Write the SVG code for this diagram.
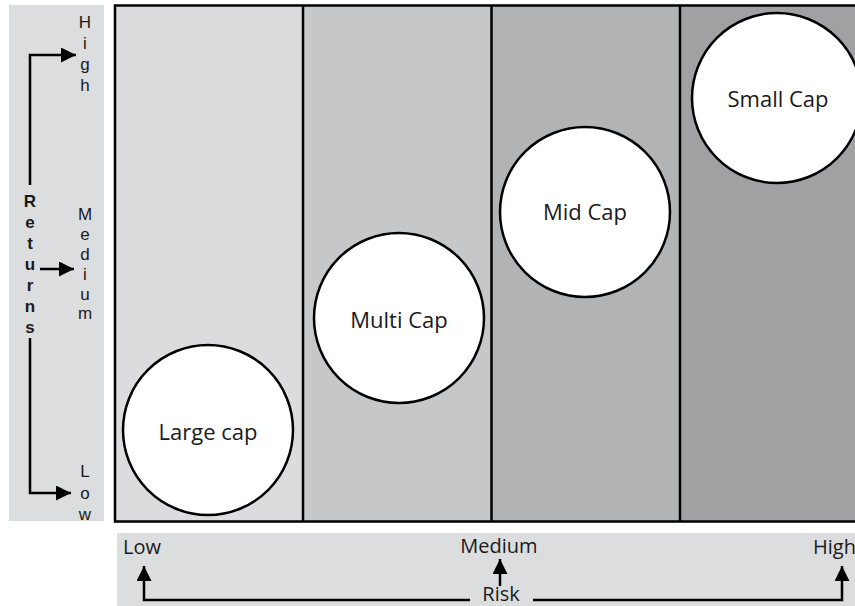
<svg xmlns="http://www.w3.org/2000/svg" width="855" height="606" viewBox="0 0 855 606">
<defs>
<style>
text{font-family:"Open Sans","DejaVu Sans",sans-serif;fill:#1a1a1a}
.lbl{font-size:22px;text-anchor:middle}
.ax{font-size:20px}
.v{font-family:"Liberation Sans",Arial,sans-serif;font-size:17px;text-anchor:middle}
.vb{font-family:"Liberation Sans",Arial,sans-serif;font-size:17px;text-anchor:middle;font-weight:bold}
.ln{stroke:#000;stroke-width:2.5;fill:none}
.node circle{fill:#fff;stroke:#000;stroke-width:2.5}
</style>
<marker id="ah" viewBox="0 0 10 10" refX="10" refY="5" markerWidth="6" markerHeight="6" markerUnits="strokeWidth" orient="auto"><path d="M0,0 L10,5 L0,10 z" fill="#000"/></marker>
</defs>
<rect width="855" height="606" fill="#fff"/>
<g id="returns-axis">
<rect x="9" y="5" width="95" height="516" fill="#dcdddf"/>
<text class="v" x="85" y="28">H</text>
<text class="v" x="85" y="49">i</text>
<text class="v" x="85" y="70">g</text>
<text class="v" x="85" y="91">h</text>
<text class="v" x="85" y="220">M</text>
<text class="v" x="85" y="240">e</text>
<text class="v" x="85" y="260">d</text>
<text class="v" x="85" y="280">i</text>
<text class="v" x="85" y="300">u</text>
<text class="v" x="85" y="319">m</text>
<text class="v" x="85" y="477">L</text>
<text class="v" x="85" y="499">o</text>
<text class="v" x="85" y="520">w</text>
<text class="vb" x="30" y="207">R</text>
<text class="vb" x="30" y="228">e</text>
<text class="vb" x="30" y="249">t</text>
<text class="vb" x="30" y="270">u</text>
<text class="vb" x="30" y="291">r</text>
<text class="vb" x="30" y="312">n</text>
<text class="vb" x="30" y="333">s</text>
</g>
<g id="risk-axis">
<rect x="117" y="533" width="738" height="73" fill="#dcdddf"/>
<text class="ax" x="123" y="554">Low</text>
<text class="ax" x="499" y="553" text-anchor="middle">Medium</text>
<text class="ax" x="813" y="554">High</text>
<text class="ax" x="501" y="601" text-anchor="middle">Risk</text>
</g>
<g id="columns">
<rect x="115" y="5.5" width="188" height="516" fill="#dcdcde"/>
<rect x="303" y="5.5" width="188.5" height="516" fill="#c6c7c9"/>
<rect x="491.5" y="5.5" width="188.5" height="516" fill="#b1b3b5"/>
<rect x="680" y="5.5" width="180" height="516" fill="#a1a1a3"/>
<path class="ln" d="M860,5.5 H115 V521.5 H860 M303,5.5 V521.5 M491.5,5.5 V521.5 M680,5.5 V521.5" stroke-width="3"/>
</g>
<g id="connectors">
<path class="ln" d="M30,185 V55 H76" marker-end="url(#ah)"/>
<path class="ln" d="M40,269 H74" marker-end="url(#ah)"/>
<path class="ln" d="M30,338 V493 H71" marker-end="url(#ah)"/>
<path class="ln" d="M470,600 H144 V566" marker-end="url(#ah)"/>
<path class="ln" d="M533,600 H842 V566" marker-end="url(#ah)"/>
<path class="ln" d="M500,586 V559" marker-end="url(#ah)"/>
</g>
<g id="large-cap" class="node">
<circle cx="208" cy="430" r="85"/>
<text class="lbl" x="208" y="440">Large cap</text>
</g>
<g id="multi-cap" class="node">
<circle cx="399" cy="318" r="85"/>
<text class="lbl" x="399" y="328">Multi Cap</text>
</g>
<g id="mid-cap" class="node">
<circle cx="585" cy="212" r="85"/>
<text class="lbl" x="585" y="220">Mid Cap</text>
</g>
<g id="small-cap" class="node">
<circle cx="777" cy="98" r="85"/>
<text class="lbl" x="778" y="107">Small Cap</text>
</g>
</svg>
